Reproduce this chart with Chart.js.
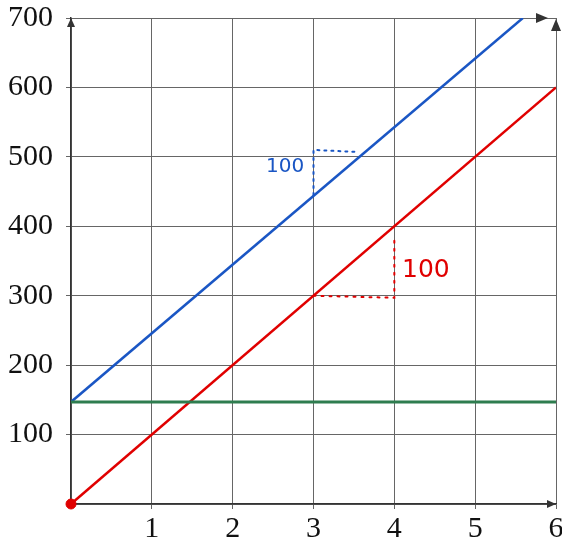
<!DOCTYPE html>
<html>
<head>
<meta charset="utf-8">
<script src="https://cdn.jsdelivr.net/npm/chart.js@4"></script>
<style>
  html, body { margin: 0; padding: 0; background: #fff; }
  #wrap { width: 562px; height: 543px; }
</style>
</head>
<body>
<div id="wrap"><canvas id="c" width="562" height="543"></canvas></div>
<script>
// akse-ticks
const xTicks = [0, 1, 2, 3, 4, 5, 6];
const yTicks = [0, 100, 200, 300, 400, 500, 600, 700];

// linjer (x, y)
const blueLine = [{ x: 0, y: 147 }, { x: 5.59, y: 700 }];
const redLine = [{ x: 0, y: 0 }, { x: 6, y: 600 }];
const greenLine = [{ x: 0, y: 147 }, { x: 6, y: 147 }];
const origin = [{ x: 0, y: 0 }];

// håndtegnede hældningstrekanter
const blueStep = [{ x: 3, y: 445 }, { x: 3, y: 510 }, { x: 3.55, y: 507 }];
const redStep = [{ x: 3, y: 300 }, { x: 4, y: 297 }, { x: 4, y: 380 }];
const notes = [
  { text: "100", x: 2.65, y: 486, color: "#1a56c4", size: 20 },
  { text: "100", x: 4.39, y: 336, color: "#e00000", size: 25 }
];

const BLUE = "#1a56c4";
const RED = "#e00000";
const GREEN = "#2e7d4f";

const extras = {
  id: "extras",
  afterDatasetsDraw(chart) {
    const ctx = chart.ctx;
    const xs = chart.scales.x, ys = chart.scales.y;
    ctx.save();
    notes.forEach(n => {
      ctx.fillStyle = n.color;
      ctx.font = n.size + "px 'DejaVu Sans'";
      ctx.textAlign = "center";
      ctx.textBaseline = "middle";
      ctx.fillText(n.text, xs.getPixelForValue(n.x), ys.getPixelForValue(n.y));
    });
    // pile
    const { left, right, top, bottom } = chart.chartArea;
    const tri = (pts, col) => {
      ctx.fillStyle = col;
      ctx.beginPath();
      ctx.moveTo(pts[0][0], pts[0][1]);
      ctx.lineTo(pts[1][0], pts[1][1]);
      ctx.lineTo(pts[2][0], pts[2][1]);
      ctx.closePath();
      ctx.fill();
    };
    tri([[left, top], [left - 4, top + 9], [left + 4, top + 9]], "#333");
    tri([[right, bottom], [right - 9, bottom - 4], [right - 9, bottom + 4]], "#333");
    tri([[right - 8, top], [right - 20, top - 5], [right - 20, top + 5]], "#333");
    tri([[right, top + 1], [right - 5, top + 13], [right + 5, top + 13]], "#333");
    ctx.restore();
  }
};

new Chart(document.getElementById("c"), {
  type: "scatter",
  data: {
    datasets: [
      { data: blueStep, showLine: true, borderColor: BLUE, borderWidth: 2, borderDash: [2, 5], borderCapStyle: "round", pointRadius: 0 },
      { data: redStep, showLine: true, borderColor: RED, borderWidth: 2, borderDash: [2, 6], borderCapStyle: "round", pointRadius: 0 },
      { data: greenLine, showLine: true, borderColor: GREEN, borderWidth: 3, pointRadius: 0 },
      { data: blueLine, showLine: true, borderColor: BLUE, borderWidth: 2.5, pointRadius: 0 },
      { data: redLine, showLine: true, borderColor: RED, borderWidth: 2.5, pointRadius: 0 },
      { data: origin, clip: false, pointRadius: 5, pointBackgroundColor: RED, pointBorderColor: RED }
    ]
  },
  options: {
    responsive: false,
    animation: false,
    layout: { padding: { top: 18, right: 6, left: 0, bottom: 0 } },
    plugins: { legend: { display: false }, tooltip: { enabled: false } },
    scales: {
      x: {
        type: "linear", min: 0, max: 6,
        afterBuildTicks: s => { s.ticks = xTicks.map(v => ({ value: v })); },
        afterFit: s => { s.height = 39; s.paddingLeft = 0; s.paddingRight = 0; },
        grid: { color: "#666", lineWidth: 1, tickLength: 5, tickColor: "#666" },
        border: { color: "#333", width: 1.5 },
        ticks: {
          color: "#111", padding: 2, maxRotation: 0,
          font: { family: "'Liberation Serif'", size: 30 },
          callback: v => (v === 0 ? "" : String(v))
        }
      },
      y: {
        type: "linear", min: 0, max: 700,
        afterBuildTicks: s => { s.ticks = yTicks.map(v => ({ value: v })); },
        afterFit: s => { s.width = 71; s.paddingTop = 0; s.paddingBottom = 0; },
        grid: { color: "#666", lineWidth: 1, tickLength: 5, tickColor: "#666" },
        border: { color: "#333", width: 1.5 },
        ticks: {
          color: "#111", padding: 13,
          font: { family: "'Liberation Serif'", size: 30 },
          callback: v => (v === 0 ? "" : String(v))
        }
      }
    }
  },
  plugins: [extras]
});
</script>
</body>
</html>
